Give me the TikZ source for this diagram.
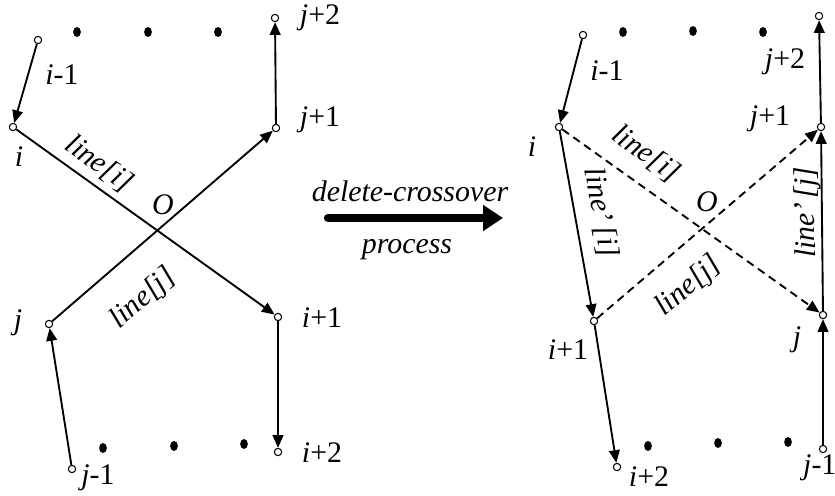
\documentclass[tikz,border=0pt]{standalone}
\usepackage{fontspec}
\setmainfont{Liberation Serif}
\usetikzlibrary{shapes.geometric, arrows.meta, positioning}

\begin{document}
\begin{tikzpicture}[
  x=0.3mm, y=-0.3mm,
  pt/.style={circle, draw, fill=white, line width=0.9pt, minimum size=2.2mm, inner sep=0pt},
  dot/.style={ellipse, fill, minimum width=2.3mm, minimum height=3mm, inner sep=0pt},
  lbl/.style={font=\fontsize{25.5}{30}\selectfont, inner sep=0pt},
  tag/.style={font=\fontsize{25.5}{30}\selectfont\itshape, sloped, inner sep=#1},
  tag/.default=4pt,
  seg/.style={line width=1.6pt, -{Triangle[length=3.8mm, width=3.2mm]}},
  cross/.style={seg, dash pattern=on 2.4mm off 1.6mm},
  bigarrow/.style={line width=2.5mm, line cap=round, -{Triangle[length=6mm, width=7.5mm]}},
]
  \useasboundingbox (0,0) rectangle (835,495);

  % ── before: line[i] and line[j] cross at O ──
  \node[pt] (Lim1) at (38,40) {};
  \node[pt] (Li)   at (13,127) {};
  \node[pt] (Lip1) at (278,317) {};
  \node[pt] (Lip2) at (278,452) {};
  \node[pt] (Ljm1) at (72,469) {};
  \node[pt] (Lj)   at (49,324) {};
  \node[pt] (Ljp1) at (276,128) {};
  \node[pt] (Ljp2) at (275,18) {};

  \node[dot] (Ld1) at (77,32) {};
  \node[dot] (Ld2) at (148,32) {};
  \node[dot] (Ld3) at (218,32) {};
  \node[dot] (Ld4) at (103,448) {};
  \node[dot] (Ld5) at (174,446) {};
  \node[dot] (Ld6) at (244,444) {};

  \draw[seg] (Lim1) -- (Li);
  \draw[seg] (Li) -- node[tag=6pt, above, pos=0.275] (Llinei) {line[i]} (Lip1);
  \draw[seg] (Lip1) -- (Lip2);
  \draw[seg] (Ljm1) -- (Lj);
  \draw[seg] (Lj) -- node[tag=24pt, below, pos=0.287] (Llinej) {line[j]} (Ljp1);
  \draw[seg] (Ljp1) -- (Ljp2);

  \node[lbl] (lLim1) at (62,75)  {\textit{i}-1};
  \node[lbl] (lLi)   at (19,157) {\textit{i}};
  \node[lbl] (lLjp2) at (320,18) {\textit{j}+2};
  \node[lbl] (lLjp1) at (320,120) {\textit{j}+1};
  \node[lbl] (lLO)   at (163,205) {\textit{O}};
  \node[lbl] (lLj)   at (18,323) {\textit{j}};
  \node[lbl] (lLip1) at (322,318) {\textit{i}+1};
  \node[lbl] (lLip2) at (322,453) {\textit{i}+2};
  \node[lbl] (lLjm1) at (98,478) {\textit{j}-1};

  % ── process arrow ──
  \coordinate (pa) at (328,218);
  \coordinate (pb) at (503,218);
  \draw[bigarrow] (pa) -- (pb);
  \node[lbl] (dc)   at (410,191) {\itshape delete-crossover};
  \node[lbl] (proc) at (407,250) {\itshape process};

  % ── after: crossing removed ──
  \node[pt] (Rim1) at (583,35) {};
  \node[pt] (Ri)   at (559,127) {};
  \node[pt] (Rip1) at (594,321) {};
  \node[pt] (Rip2) at (617,467) {};
  \node[pt] (Rjm1) at (823,449) {};
  \node[pt] (Rj)   at (823,315) {};
  \node[pt] (Rjp1) at (821,127) {};
  \node[pt] (Rjp2) at (819,16) {};

  \node[dot] (Rd1) at (623,32) {};
  \node[dot] (Rd2) at (693,31) {};
  \node[dot] (Rd3) at (763,32) {};
  \node[dot] (Rd4) at (648,446) {};
  \node[dot] (Rd5) at (718,443) {};
  \node[dot] (Rd6) at (788,442) {};

  \draw[seg] (Rim1) -- (Ri);
  \draw[cross] (Ri) -- node[tag=13pt, above, pos=0.261] (Rlinei) {line[i]} (Rj);
  \draw[cross] (Rip1) -- node[tag=18pt, below, pos=0.311] (Rlinej) {line[j]} (Rjp1);
  \draw[seg] (Ri) -- node[tag=11pt, above, pos=0.463] (Rlinepi) {line’\,[i]} (Rip1);
  \draw[seg] (Rip1) -- (Rip2);
  \draw[seg] (Rjm1) -- (Rj);
  \draw[seg] (Rj) -- node[tag=0pt, above, allow upside down, pos=0.55] (Rlinepj) {line’\,[j]} (Rjp1);
  \draw[seg] (Rjp1) -- (Rjp2);

  \node[lbl] (lRim1) at (607,71)  {\textit{i}-1};
  \node[lbl] (lRi)   at (532,147) {\textit{i}};
  \node[lbl] (lRjp2) at (785,62)  {\textit{j}+2};
  \node[lbl] (lRjp1) at (770,119) {\textit{j}+1};
  \node[lbl] (lRO)   at (707,202) {\textit{O}};
  \node[lbl] (lRip1) at (568,350) {\textit{i}+1};
  \node[lbl] (lRip2) at (649,477) {\textit{i}+2};
  \node[lbl] (lRj)   at (797,340) {\textit{j}};
  \node[lbl, anchor=west] (lRjm1) at (803,468) {\textit{j}-1};
\end{tikzpicture}
\end{document}
